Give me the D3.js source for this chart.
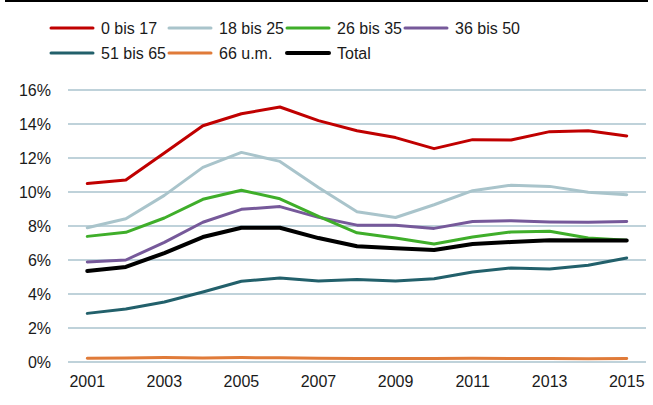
<!DOCTYPE html>
<html>
<head>
<meta charset="utf-8">
<script src="https://cdn.jsdelivr.net/npm/d3@7"></script>
<style>
  body { margin: 0; background: #fff; }
  svg { display: block; font-family: "Liberation Sans", Arial, sans-serif; }
</style>
</head>
<body>
<div id="chart"></div>
<script>
const years = ["2001","2002","2003","2004","2005","2006","2007","2008","2009","2010","2011","2012","2013","2014","2015"];
const yTicks = [0, 2, 4, 6, 8, 10, 12, 14, 16];
const xTicks = ["2001","2003","2005","2007","2009","2011","2013","2015"];

const s0to17  = [10.5, 10.7, 12.3, 13.9, 14.6, 15.0, 14.2, 13.6, 13.2, 12.55, 13.08, 13.06, 13.55, 13.6, 13.3];
const s18to25 = [7.9, 8.43, 9.8, 11.45, 12.33, 11.8, 10.27, 8.84, 8.5, 9.25, 10.08, 10.4, 10.33, 9.98, 9.84];
const s26to35 = [7.39, 7.63, 8.47, 9.57, 10.1, 9.6, 8.57, 7.6, 7.3, 6.94, 7.35, 7.65, 7.69, 7.3, 7.16];
const s36to50 = [5.88, 6.0, 7.04, 8.22, 8.98, 9.14, 8.51, 8.05, 8.04, 7.86, 8.27, 8.31, 8.24, 8.22, 8.27];
const s51to65 = [2.86, 3.12, 3.53, 4.12, 4.75, 4.94, 4.76, 4.86, 4.76, 4.9, 5.29, 5.53, 5.47, 5.69, 6.12];
const s66plus = [0.22, 0.24, 0.26, 0.24, 0.26, 0.25, 0.22, 0.21, 0.21, 0.2, 0.22, 0.21, 0.2, 0.19, 0.2];
const sTotal  = [5.35, 5.59, 6.41, 7.35, 7.9, 7.9, 7.29, 6.81, 6.69, 6.59, 6.94, 7.06, 7.16, 7.14, 7.14];

const seriesNames = ["0 bis 17", "18 bis 25", "26 bis 35", "36 bis 50", "51 bis 65", "66 u.m.", "Total"];
const seriesValues = [s0to17, s18to25, s26to35, s36to50, s51to65, s66plus, sTotal];
const seriesColors = ["#c00000", "#a9c4cb", "#3fae2a", "#76599a", "#22606b", "#e07b39", "#000000"];
const seriesWidths = [3, 3, 3, 3, 3, 3, 4];

const width = 653, height = 405;
const margin = { top: 90, right: 7, bottom: 43, left: 68 };

const svg = d3.select("#chart").append("svg")
  .attr("width", width)
  .attr("height", height);

// thin black rule at the very top
svg.append("rect")
  .attr("x", 5).attr("y", 0)
  .attr("width", 643).attr("height", 2)
  .attr("fill", "#000");

const xscale = d3.scaleBand()
  .domain(years)
  .range([margin.left, width - margin.right]);

const yscale = d3.scaleLinear()
  .domain([0, 16])
  .range([height - margin.bottom, margin.top]);

// gridlines
svg.append("g").selectAll("line")
  .data(yTicks)
  .enter().append("line")
  .attr("x1", margin.left)
  .attr("x2", width - margin.right)
  .attr("y1", d => yscale(d))
  .attr("y2", d => yscale(d))
  .attr("stroke", "#bfd2da")
  .attr("stroke-width", 2);

// y axis labels
const yAxis = d3.axisLeft(yscale).tickValues(yTicks).tickFormat(d => d + "%").tickSize(0).tickPadding(0);
svg.append("g")
  .attr("class", "y axis")
  .attr("transform", "translate(51,0)")
  .call(yAxis)
  .call(g => g.select(".domain").remove())
  .selectAll("text")
  .attr("font-size", 16)
  .attr("font-family", "Liberation Sans, Arial, sans-serif")
  .attr("fill", "#1a1a1a");

// x axis labels
const xAxis = d3.axisBottom(xscale).tickValues(xTicks).tickSize(0).tickPadding(0);
svg.append("g")
  .attr("class", "x axis")
  .attr("transform", `translate(0,${height - margin.bottom + 14})`)
  .call(xAxis)
  .call(g => g.select(".domain").remove())
  .selectAll("text")
  .attr("font-size", 16)
  .attr("font-family", "Liberation Sans, Arial, sans-serif")
  .attr("fill", "#1a1a1a");

const line = d3.line()
  .x((d, i) => xscale(years[i]) + xscale.bandwidth() / 2)
  .y(d => yscale(d));

// draw order: light lines first, total on top
const order = [5, 4, 1, 3, 2, 0, 6];
order.forEach(k => {
  svg.append("path")
    .datum(seriesValues[k])
    .attr("d", line)
    .attr("fill", "none")
    .attr("stroke", seriesColors[k])
    .attr("stroke-width", seriesWidths[k])
    .attr("stroke-linejoin", "round")
    .attr("stroke-linecap", "round");
});

// legend
const legendX = [50, 168, 286, 404];
const legendY = [28, 53];
const legend = svg.append("g");
seriesNames.forEach((name, i) => {
  const lx = legendX[i % 4];
  const ly = legendY[Math.floor(i / 4)];
  legend.append("line")
    .attr("x1", lx + 1).attr("x2", lx + 43)
    .attr("y1", ly).attr("y2", ly)
    .attr("stroke", seriesColors[i])
    .attr("stroke-width", seriesWidths[i])
    .attr("stroke-linecap", "round");
  legend.append("text")
    .attr("x", lx + 51)
    .attr("y", ly)
    .attr("dy", "0.35em")
    .attr("font-size", 16)
    .attr("fill", "#1a1a1a")
    .text(name);
});
</script>
</body>
</html>
